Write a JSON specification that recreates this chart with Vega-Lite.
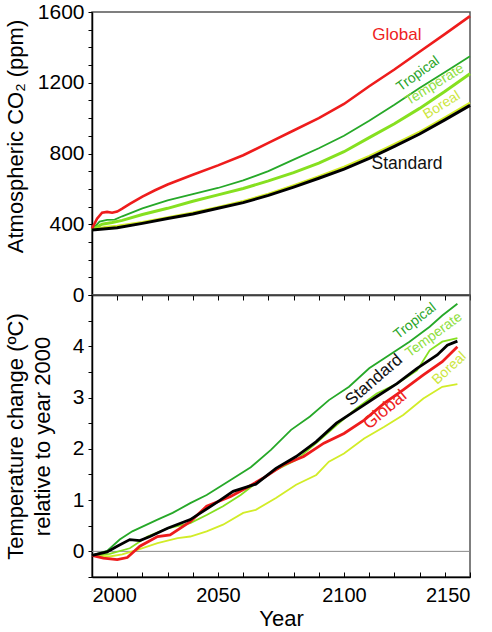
{
  "$schema": "https://vega.github.io/schema/vega-lite/v6.json",
  "padding": {"left": 3, "top": 0, "right": 0, "bottom": 2},
  "spacing": 0,
  "bounds": "flush",
  "config": {
    "font": "Liberation Sans",
    "view": {"stroke": "#555", "strokeWidth": 1.5},
    "axis": {"grid": false, "domainColor": "#000", "domainWidth": 1.5, "tickColor": "#000", "tickWidth": 1, "labelFontSize": 21, "labelColor": "#000", "titleFontSize": 22, "titleFontWeight": "normal", "titleColor": "#000", "labelFont": "Liberation Sans", "titleFont": "Liberation Sans"}
  },
  "datasets": {
    "co2": [
      {"s":"Standard","year":2000,"ppm":368},{"s":"Standard","year":2010,"ppm":380},{"s":"Standard","year":2020,"ppm":405},{"s":"Standard","year":2030,"ppm":432},{"s":"Standard","year":2040,"ppm":458},{"s":"Standard","year":2050,"ppm":490},{"s":"Standard","year":2060,"ppm":522},{"s":"Standard","year":2070,"ppm":563},{"s":"Standard","year":2080,"ppm":610},{"s":"Standard","year":2090,"ppm":660},{"s":"Standard","year":2100,"ppm":712},{"s":"Standard","year":2110,"ppm":773},{"s":"Standard","year":2120,"ppm":840},{"s":"Standard","year":2130,"ppm":910},{"s":"Standard","year":2140,"ppm":990},{"s":"Standard","year":2150,"ppm":1072},
      {"s":"Boreal","year":2000,"ppm":368},{"s":"Boreal","year":2005,"ppm":385},{"s":"Boreal","year":2010,"ppm":392},{"s":"Boreal","year":2020,"ppm":413},{"s":"Boreal","year":2030,"ppm":440},{"s":"Boreal","year":2040,"ppm":467},{"s":"Boreal","year":2050,"ppm":498},{"s":"Boreal","year":2060,"ppm":532},{"s":"Boreal","year":2070,"ppm":573},{"s":"Boreal","year":2080,"ppm":621},{"s":"Boreal","year":2090,"ppm":672},{"s":"Boreal","year":2100,"ppm":725},{"s":"Boreal","year":2110,"ppm":787},{"s":"Boreal","year":2120,"ppm":854},{"s":"Boreal","year":2130,"ppm":924},{"s":"Boreal","year":2140,"ppm":1004},{"s":"Boreal","year":2150,"ppm":1087},
      {"s":"Temperate","year":2000,"ppm":368},{"s":"Temperate","year":2004,"ppm":400},{"s":"Temperate","year":2008,"ppm":410},{"s":"Temperate","year":2012,"ppm":422},{"s":"Temperate","year":2020,"ppm":455},{"s":"Temperate","year":2030,"ppm":490},{"s":"Temperate","year":2040,"ppm":530},{"s":"Temperate","year":2050,"ppm":566},{"s":"Temperate","year":2060,"ppm":602},{"s":"Temperate","year":2070,"ppm":645},{"s":"Temperate","year":2080,"ppm":692},{"s":"Temperate","year":2090,"ppm":745},{"s":"Temperate","year":2100,"ppm":810},{"s":"Temperate","year":2110,"ppm":890},{"s":"Temperate","year":2120,"ppm":968},{"s":"Temperate","year":2130,"ppm":1055},{"s":"Temperate","year":2140,"ppm":1150},{"s":"Temperate","year":2150,"ppm":1251},
      {"s":"Tropical","year":2000,"ppm":368},{"s":"Tropical","year":2003,"ppm":415},{"s":"Tropical","year":2006,"ppm":425},{"s":"Tropical","year":2009,"ppm":426},{"s":"Tropical","year":2012,"ppm":445},{"s":"Tropical","year":2020,"ppm":490},{"s":"Tropical","year":2030,"ppm":535},{"s":"Tropical","year":2040,"ppm":570},{"s":"Tropical","year":2050,"ppm":605},{"s":"Tropical","year":2060,"ppm":648},{"s":"Tropical","year":2070,"ppm":700},{"s":"Tropical","year":2080,"ppm":765},{"s":"Tropical","year":2090,"ppm":830},{"s":"Tropical","year":2100,"ppm":900},{"s":"Tropical","year":2110,"ppm":985},{"s":"Tropical","year":2120,"ppm":1075},{"s":"Tropical","year":2130,"ppm":1170},{"s":"Tropical","year":2140,"ppm":1260},{"s":"Tropical","year":2150,"ppm":1350},
      {"s":"Global","year":2000,"ppm":375},{"s":"Global","year":2002,"ppm":431},{"s":"Global","year":2004,"ppm":465},{"s":"Global","year":2006,"ppm":470},{"s":"Global","year":2008,"ppm":465},{"s":"Global","year":2010,"ppm":472},{"s":"Global","year":2012,"ppm":488},{"s":"Global","year":2015,"ppm":515},{"s":"Global","year":2020,"ppm":556},{"s":"Global","year":2025,"ppm":592},{"s":"Global","year":2030,"ppm":625},{"s":"Global","year":2040,"ppm":680},{"s":"Global","year":2050,"ppm":733},{"s":"Global","year":2060,"ppm":790},{"s":"Global","year":2070,"ppm":860},{"s":"Global","year":2080,"ppm":930},{"s":"Global","year":2090,"ppm":1000},{"s":"Global","year":2100,"ppm":1080},{"s":"Global","year":2110,"ppm":1180},{"s":"Global","year":2120,"ppm":1275},{"s":"Global","year":2130,"ppm":1375},{"s":"Global","year":2140,"ppm":1475},{"s":"Global","year":2150,"ppm":1577}
    ],
    "temp": [
      {"s":"Zero","year":2000,"t":0},{"s":"Zero","year":2150,"t":0},
      {"s":"Standard","year":2000,"t":-0.08},{"s":"Standard","year":2006,"t":-0.01},{"s":"Standard","year":2010,"t":0.10},{"s":"Standard","year":2015,"t":0.23},{"s":"Standard","year":2019,"t":0.21},{"s":"Standard","year":2023,"t":0.29},{"s":"Standard","year":2030,"t":0.45},{"s":"Standard","year":2039,"t":0.62},{"s":"Standard","year":2050,"t":0.97},{"s":"Standard","year":2056,"t":1.17},{"s":"Standard","year":2065,"t":1.31},{"s":"Standard","year":2073,"t":1.62},{"s":"Standard","year":2081,"t":1.85},{"s":"Standard","year":2089,"t":2.14},{"s":"Standard","year":2097,"t":2.50},{"s":"Standard","year":2105,"t":2.76},{"s":"Standard","year":2113,"t":3.02},{"s":"Standard","year":2121,"t":3.27},{"s":"Standard","year":2129,"t":3.57},{"s":"Standard","year":2137,"t":3.83},{"s":"Standard","year":2141,"t":4.02},{"s":"Standard","year":2145,"t":4.10},
      {"s":"Global","year":2000,"t":-0.08},{"s":"Global","year":2004.5,"t":-0.13},{"s":"Global","year":2010,"t":-0.16},{"s":"Global","year":2014,"t":-0.12},{"s":"Global","year":2019,"t":0.10},{"s":"Global","year":2026,"t":0.29},{"s":"Global","year":2031,"t":0.32},{"s":"Global","year":2039,"t":0.58},{"s":"Global","year":2045.5,"t":0.88},{"s":"Global","year":2055,"t":1.07},{"s":"Global","year":2061,"t":1.23},{"s":"Global","year":2068,"t":1.43},{"s":"Global","year":2076,"t":1.69},{"s":"Global","year":2084,"t":1.85},{"s":"Global","year":2092,"t":2.11},{"s":"Global","year":2100,"t":2.30},{"s":"Global","year":2108,"t":2.56},{"s":"Global","year":2116,"t":2.89},{"s":"Global","year":2123.5,"t":3.15},{"s":"Global","year":2131.5,"t":3.44},{"s":"Global","year":2139,"t":3.70},{"s":"Global","year":2145,"t":3.99},
      {"s":"Tropical","year":2000,"t":-0.08},{"s":"Tropical","year":2006,"t":0.01},{"s":"Tropical","year":2011,"t":0.23},{"s":"Tropical","year":2016,"t":0.39},{"s":"Tropical","year":2026,"t":0.62},{"s":"Tropical","year":2032,"t":0.75},{"s":"Tropical","year":2039,"t":0.94},{"s":"Tropical","year":2045.5,"t":1.10},{"s":"Tropical","year":2055,"t":1.39},{"s":"Tropical","year":2063,"t":1.64},{"s":"Tropical","year":2071,"t":1.98},{"s":"Tropical","year":2079,"t":2.37},{"s":"Tropical","year":2086.5,"t":2.63},{"s":"Tropical","year":2094,"t":2.95},{"s":"Tropical","year":2102,"t":3.21},{"s":"Tropical","year":2110,"t":3.57},{"s":"Tropical","year":2118,"t":3.83},{"s":"Tropical","year":2126,"t":4.09},{"s":"Tropical","year":2134,"t":4.38},{"s":"Tropical","year":2139,"t":4.60},{"s":"Tropical","year":2145,"t":4.83},
      {"s":"Temperate","year":2000,"t":-0.08},{"s":"Temperate","year":2007,"t":-0.05},{"s":"Temperate","year":2015,"t":0.06},{"s":"Temperate","year":2022,"t":0.29},{"s":"Temperate","year":2030,"t":0.45},{"s":"Temperate","year":2039,"t":0.55},{"s":"Temperate","year":2045.5,"t":0.71},{"s":"Temperate","year":2052,"t":0.88},{"s":"Temperate","year":2059,"t":1.10},{"s":"Temperate","year":2065,"t":1.33},{"s":"Temperate","year":2073,"t":1.59},{"s":"Temperate","year":2081,"t":1.78},{"s":"Temperate","year":2089,"t":2.11},{"s":"Temperate","year":2097,"t":2.46},{"s":"Temperate","year":2105,"t":2.79},{"s":"Temperate","year":2113,"t":3.08},{"s":"Temperate","year":2121,"t":3.27},{"s":"Temperate","year":2129,"t":3.53},{"s":"Temperate","year":2134,"t":3.92},{"s":"Temperate","year":2139,"t":4.09},{"s":"Temperate","year":2145,"t":4.16},
      {"s":"Boreal","year":2000,"t":-0.08},{"s":"Boreal","year":2007,"t":-0.10},{"s":"Boreal","year":2012,"t":-0.06},{"s":"Boreal","year":2018,"t":0.03},{"s":"Boreal","year":2026,"t":0.16},{"s":"Boreal","year":2034,"t":0.26},{"s":"Boreal","year":2039,"t":0.29},{"s":"Boreal","year":2045.5,"t":0.39},{"s":"Boreal","year":2052,"t":0.52},{"s":"Boreal","year":2060,"t":0.75},{"s":"Boreal","year":2065,"t":0.81},{"s":"Boreal","year":2073,"t":1.04},{"s":"Boreal","year":2081,"t":1.30},{"s":"Boreal","year":2089,"t":1.49},{"s":"Boreal","year":2094,"t":1.75},{"s":"Boreal","year":2100,"t":1.91},{"s":"Boreal","year":2108,"t":2.20},{"s":"Boreal","year":2116,"t":2.43},{"s":"Boreal","year":2123.5,"t":2.66},{"s":"Boreal","year":2131.5,"t":2.98},{"s":"Boreal","year":2139,"t":3.21},{"s":"Boreal","year":2145,"t":3.26}
    ],
    "labTop": [
      {"label":"Global","year":2121,"ppm":1470},
      {"label":"Tropical","year":2129.4,"ppm":1250},
      {"label":"Temperate","year":2136,"ppm":1189},
      {"label":"Boreal","year":2138.8,"ppm":1073},
      {"label":"Standard","year":2125,"ppm":742}
    ],
    "labBot": [
      {"label":"Tropical","year":2128.2,"t":4.49},
      {"label":"Temperate","year":2135.7,"t":4.22},
      {"label":"Standard","year":2111.9,"t":3.34},
      {"label":"Global","year":2116.3,"t":2.76},
      {"label":"Boreal","year":2141.8,"t":3.57}
    ]
  },
  "vconcat": [
    {
      "width": 378,
      "height": 283,
      "data": {"name": "co2"},
      "encoding": {
        "x": {"field": "year", "type": "quantitative", "scale": {"domain": [2000, 2150], "nice": false, "zero": false},
              "axis": {"values": [2000,2010,2020,2030,2040,2050,2060,2070,2080,2090,2100,2110,2120,2130,2140,2150], "labels": false, "title": null, "tickSize": 5}},
        "y": {"field": "ppm", "type": "quantitative", "scale": {"domain": [0, 1600], "nice": false},
              "axis": {"values": [0,100,200,300,400,500,600,700,800,900,1000,1100,1200,1300,1400,1500,1600], "labelExpr": "datum.value % 400 === 0 ? format(datum.value, 'd') : ''", "title": "Atmospheric CO₂ (ppm)", "tickSize": 4, "labelPadding": 4, "titlePadding": 10, "titleY": 124}}
      },
      "layer": [
        {"transform": [{"filter": "datum.s === 'Tropical'"}], "mark": {"type": "line", "color": "#26a828", "strokeWidth": 1.8}},
        {"transform": [{"filter": "datum.s === 'Temperate'"}], "mark": {"type": "line", "color": "#86e020", "strokeWidth": 3}},
        {"transform": [{"filter": "datum.s === 'Boreal'"}], "mark": {"type": "line", "color": "#d2ec28", "strokeWidth": 2}},
        {"transform": [{"filter": "datum.s === 'Global'"}], "mark": {"type": "line", "color": "#ee1c1c", "strokeWidth": 2.6}},
        {"transform": [{"filter": "datum.s === 'Standard'"}], "mark": {"type": "line", "color": "#000000", "strokeWidth": 3}},
        {"data": {"name": "labTop"}, "transform": [{"filter": "datum.label === 'Global'"}], "mark": {"type": "text", "color": "#ee2222", "fontSize": 17, "angle": 0}, "encoding": {"text": {"field": "label"}}},
        {"data": {"name": "labTop"}, "transform": [{"filter": "datum.label === 'Tropical'"}], "mark": {"type": "text", "color": "#2aa52a", "fontSize": 14, "angle": -36}, "encoding": {"text": {"field": "label"}}},
        {"data": {"name": "labTop"}, "transform": [{"filter": "datum.label === 'Temperate'"}], "mark": {"type": "text", "color": "#8ede40", "fontSize": 14, "angle": -32}, "encoding": {"text": {"field": "label"}}},
        {"data": {"name": "labTop"}, "transform": [{"filter": "datum.label === 'Boreal'"}], "mark": {"type": "text", "color": "#cde640", "fontSize": 14, "angle": -32}, "encoding": {"text": {"field": "label"}}},
        {"data": {"name": "labTop"}, "transform": [{"filter": "datum.label === 'Standard'"}], "mark": {"type": "text", "color": "#111111", "fontSize": 17.5, "angle": 0}, "encoding": {"text": {"field": "label"}}}
      ]
    },
    {
      "width": 378,
      "height": 282,
      "data": {"name": "temp"},
      "encoding": {
        "x": {"field": "year", "type": "quantitative", "scale": {"domain": [2000, 2150], "nice": false, "zero": false},
              "axis": {"values": [2000,2010,2020,2030,2040,2050,2060,2070,2080,2090,2100,2110,2120,2130,2140,2150], "labelExpr": "datum.value % 50 === 0 ? format(datum.value, 'd') : ''", "labelFontSize": 20, "title": "Year", "titleFontSize": 22, "tickSize": -5, "labelPadding": 13, "titlePadding": 3}},
        "y": {"field": "t", "type": "quantitative", "scale": {"domain": [-0.5, 5], "nice": false, "zero": false},
              "axis": {"values": [-0.5,0,0.5,1,1.5,2,2.5,3,3.5,4,4.5,5], "labelExpr": "(datum.value >= 0 && datum.value <= 4 && datum.value % 1 === 0) ? format(datum.value, 'd') : ''", "title": ["Temperature change (ºC)", "relative to year 2000"], "titleLineHeight": 27, "tickSize": 4, "labelPadding": 4, "titlePadding": 18}}
      },
      "layer": [
        {"transform": [{"filter": "datum.s === 'Zero'"}], "mark": {"type": "line", "color": "#888888", "strokeWidth": 1}},
        {"transform": [{"filter": "datum.s === 'Boreal'"}], "mark": {"type": "line", "color": "#d2ec28", "strokeWidth": 1.8}},
        {"transform": [{"filter": "datum.s === 'Tropical'"}], "mark": {"type": "line", "color": "#26a828", "strokeWidth": 1.8}},
        {"transform": [{"filter": "datum.s === 'Temperate'"}], "mark": {"type": "line", "color": "#86e020", "strokeWidth": 1.8}},
        {"transform": [{"filter": "datum.s === 'Global'"}], "mark": {"type": "line", "color": "#ee1c1c", "strokeWidth": 2.8}},
        {"transform": [{"filter": "datum.s === 'Standard'"}], "mark": {"type": "line", "color": "#000000", "strokeWidth": 2.8}},
        {"data": {"name": "labBot"}, "transform": [{"filter": "datum.label === 'Tropical'"}], "mark": {"type": "text", "color": "#2aa52a", "fontSize": 14, "angle": -38}, "encoding": {"text": {"field": "label"}}},
        {"data": {"name": "labBot"}, "transform": [{"filter": "datum.label === 'Temperate'"}], "mark": {"type": "text", "color": "#8ede40", "fontSize": 14, "angle": -36}, "encoding": {"text": {"field": "label"}}},
        {"data": {"name": "labBot"}, "transform": [{"filter": "datum.label === 'Standard'"}], "mark": {"type": "text", "color": "#111111", "fontSize": 17, "angle": -41}, "encoding": {"text": {"field": "label"}}},
        {"data": {"name": "labBot"}, "transform": [{"filter": "datum.label === 'Global'"}], "mark": {"type": "text", "color": "#ee2222", "fontSize": 17.5, "angle": -40}, "encoding": {"text": {"field": "label"}}},
        {"data": {"name": "labBot"}, "transform": [{"filter": "datum.label === 'Boreal'"}], "mark": {"type": "text", "color": "#cde640", "fontSize": 14, "angle": -43}, "encoding": {"text": {"field": "label"}}}
      ]
    }
  ]
}
